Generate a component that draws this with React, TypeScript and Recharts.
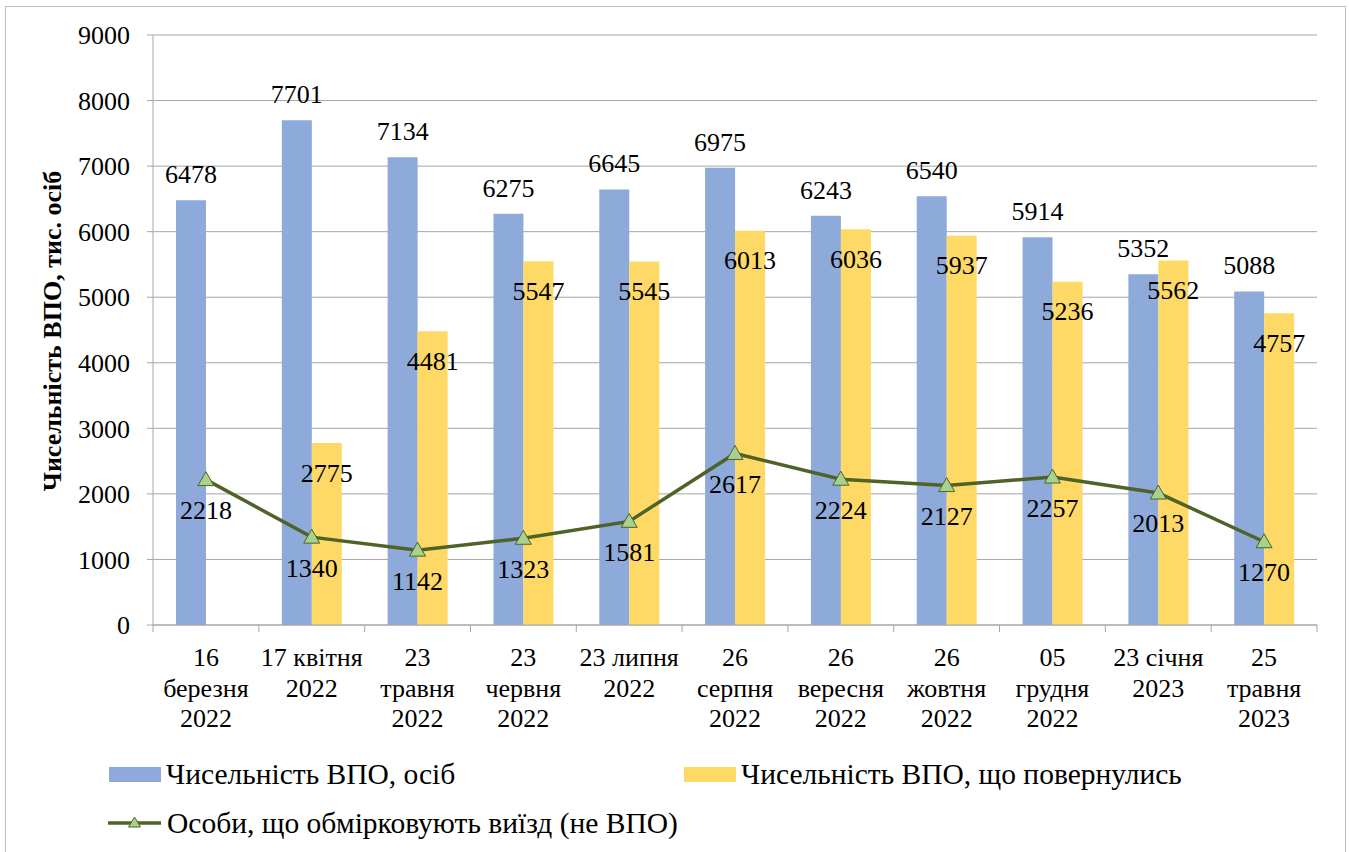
import React from 'react';
import { ComposedChart, Bar, Line, XAxis, YAxis, CartesianGrid, LabelList, Label } from 'recharts';

const categories = [
  '16\nберезня\n2022',
  '17 квітня\n2022',
  '23\nтравня\n2022',
  '23\nчервня\n2022',
  '23 липня\n2022',
  '26\nсерпня\n2022',
  '26\nвересня\n2022',
  '26\nжовтня\n2022',
  '05\nгрудня\n2022',
  '23 січня\n2023',
  '25\nтравня\n2023',
];
const idpCount = [6478, 7701, 7134, 6275, 6645, 6975, 6243, 6540, 5914, 5352, 5088];
const returnedCount = [null, 2775, 4481, 5547, 5545, 6013, 6036, 5937, 5236, 5562, 4757];
const consideringExit = [2218, 1340, 1142, 1323, 1581, 2617, 2224, 2127, 2257, 2013, 1270];
const yTicks = [0, 1000, 2000, 3000, 4000, 5000, 6000, 7000, 8000, 9000];

const seriesNames = {
  idp: 'Чисельність ВПО, осіб',
  returned: 'Чисельність ВПО, що повернулись',
  exit: 'Особи, що обмірковують виїзд (не ВПО)',
};
const yTitle = 'Чисельність ВПО, тис. осіб';

const data = categories.map((name, i) => ({
  name,
  idp: idpCount[i],
  returned: returnedCount[i],
  exit: consideringExit[i],
}));

const FONT = 'Liberation Serif, Times New Roman, serif';
const FS = 26;
const LEGEND_FS = 29.5;
const GRID = '#a6a6a6';
const BLUE = '#8eaadb';
const YELLOW = '#ffd966';
const GREEN = '#4f6228';
const MARKER = '#a9d18e';
const PLOT_W = 1164;
const BAND = PLOT_W / categories.length;

const CategoryTick = (props: any) => {
  const { x, y, payload, index } = props;
  const lines = String(payload.value).split('\n');
  return (
    <g>
      <line x1={x - BAND / 2} x2={x - BAND / 2} y1={y} y2={y + 7} stroke={GRID} />
      {index === categories.length - 1 && (
        <line x1={x + BAND / 2} x2={x + BAND / 2} y1={y} y2={y + 7} stroke={GRID} />
      )}
      <text x={x} y={y + 41} textAnchor="middle" fontFamily={FONT} fontSize={FS} fill="#000">
        {lines.map((l, i) => (
          <tspan key={i} x={x} dy={i === 0 ? 0 : 30.5}>
            {l}
          </tspan>
        ))}
      </text>
    </g>
  );
};

const Triangle = (props: any) => {
  const { cx, cy } = props;
  if (cx == null || cy == null) return null;
  return (
    <polygon
      points={`${cx},${cy - 8} ${cx - 8},${cy + 6} ${cx + 8},${cy + 6}`}
      fill={MARKER}
      stroke={GREEN}
      strokeWidth={1}
    />
  );
};

const labelStyle = { fontFamily: FONT, fontSize: FS, fill: '#000' };

const legendRow = { position: 'absolute' as const, display: 'flex', alignItems: 'center', fontSize: LEGEND_FS, height: 34, whiteSpace: 'nowrap' as const };

export default function App() {
  return (
    <div
      style={{
        position: 'absolute',
        left: 0,
        top: 0,
        width: 1349,
        height: 852,
        overflow: 'hidden',
        background: '#fff',
        fontFamily: FONT,
      }}
    >
      <div
        style={{
          position: 'absolute',
          left: 5,
          top: 6,
          width: 1339,
          height: 900,
          border: '1px solid #bfbfbf',
        }}
      />
      <div style={{ position: 'absolute', left: 0, top: 0 }}>
        <ComposedChart
          width={1349}
          height={852}
          data={data}
          margin={{ top: 35, right: 32, left: 73, bottom: 117 }}
          barGap={0}
        >
          <CartesianGrid vertical={false} stroke={GRID} />
          <XAxis
            dataKey="name"
            height={110}
            interval={0}
            tick={<CategoryTick />}
            tickLine={false}
            tickSize={0}
            tickMargin={0}
            axisLine={{ stroke: GRID }}
          />
          <YAxis
            width={80}
            domain={[0, 9000]}
            ticks={yTicks}
            interval={0}
            tick={{ fontFamily: FONT, fontSize: FS, fill: '#000' }}
            tickLine={{ stroke: GRID }}
            tickSize={6}
            tickMargin={17}
            axisLine={{ stroke: GRID }}
          >
            <Label
              content={(p: any) => {
                const vb = p.viewBox || {};
                const cx = 52;
                const cy = vb.y + vb.height / 2 + 1;
                return (
                  <text
                    x={cx}
                    y={cy}
                    transform={`rotate(-90, ${cx}, ${cy})`}
                    textAnchor="middle"
                    dominantBaseline="central"
                    fontFamily={FONT}
                    fontSize={FS}
                    fontWeight="bold"
                    fill="#000"
                  >
                    {yTitle}
                  </text>
                );
              }}
            />
          </YAxis>
          <Bar dataKey="idp" name={seriesNames.idp} fill={BLUE} barSize={30} isAnimationActive={false}>
            <LabelList dataKey="idp" position="top" offset={17} style={labelStyle} />
          </Bar>
          <Bar dataKey="returned" name={seriesNames.returned} fill={YELLOW} barSize={30} isAnimationActive={false}>
            <LabelList dataKey="returned" position="insideTop" offset={20} style={labelStyle} />
          </Bar>
          <Line
            dataKey="exit"
            name={seriesNames.exit}
            stroke={GREEN}
            strokeWidth={3.5}
            dot={<Triangle />}
            activeDot={false}
            isAnimationActive={false}
          >
            <LabelList dataKey="exit" position="bottom" offset={21} style={labelStyle} />
          </Line>
        </ComposedChart>
      </div>
      {/* legend */}
      <div style={{ ...legendRow, left: 109, top: 757 }}>
        <span style={{ display: 'inline-block', width: 52, height: 15, background: BLUE, marginRight: 5 }} />
        <span>{seriesNames.idp}</span>
      </div>
      <div style={{ ...legendRow, left: 684, top: 757 }}>
        <span style={{ display: 'inline-block', width: 52, height: 15, background: YELLOW, marginRight: 5 }} />
        <span>{seriesNames.returned}</span>
      </div>
      <div style={{ ...legendRow, left: 108, top: 806 }}>
        <svg width={53} height={20} style={{ marginRight: 6 }}>
          <line x1={0} x2={53} y1={10} y2={10} stroke={GREEN} strokeWidth={3.5} />
          <polygon points="26.5,4 20.5,14 32.5,14" fill={MARKER} stroke={GREEN} strokeWidth={1} />
        </svg>
        <span>{seriesNames.exit}</span>
      </div>
    </div>
  );
}
